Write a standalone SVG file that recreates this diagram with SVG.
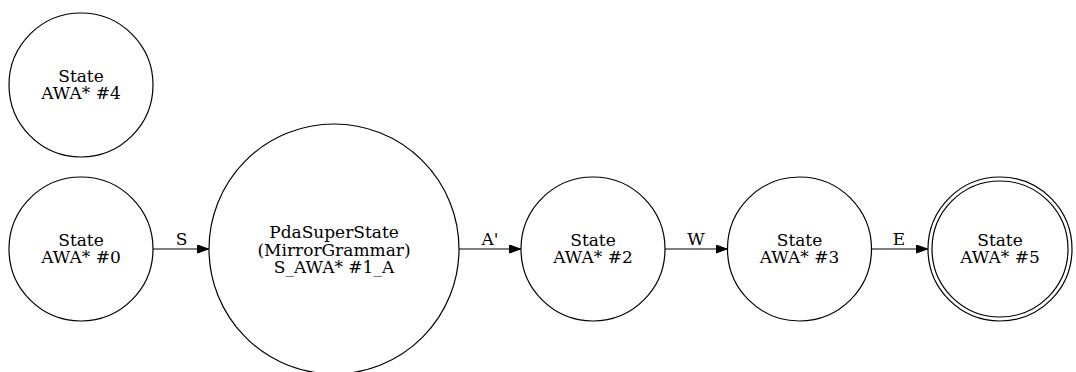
<svg xmlns="http://www.w3.org/2000/svg" width="1076" height="372" viewBox="0 0 1076 372">
  <style>
    .node circle { fill: none; stroke: #000; stroke-width: 1.2; }
    text { font-family: "DejaVu Serif", "Liberation Serif", serif; font-size: 17px; fill: #000; text-anchor: middle; }
    .edge line { stroke: #000; stroke-width: 1.2; }
  </style>
  <defs>
    <marker id="arrow" viewBox="0 0 12 9" refX="12" refY="4.5" markerWidth="12" markerHeight="9" markerUnits="userSpaceOnUse" orient="auto">
      <polygon points="0.5,0.5 11.5,4.5 0.5,8.5" fill="#000" stroke="#000" stroke-width="1"/>
    </marker>
  </defs>
  <rect width="1076" height="372" fill="#fff"/>

  <!-- states -->
  <g id="node4" class="node">
    <circle cx="81" cy="85" r="72"/>
    <text x="81" y="81.5">State</text>
    <text x="81" y="99">AWA* #4</text>
  </g>
  <g id="node0" class="node">
    <circle cx="81" cy="249" r="72"/>
    <text x="81" y="245.5">State</text>
    <text x="81" y="263">AWA* #0</text>
  </g>
  <g id="node1" class="node">
    <circle cx="334" cy="249" r="125"/>
    <text x="334" y="237.5">PdaSuperState</text>
    <text x="334" y="255.5">(MirrorGrammar)</text>
    <text x="334" y="273">S_AWA* #1_A</text>
  </g>
  <g id="node2" class="node">
    <circle cx="593" cy="249" r="72"/>
    <text x="593" y="245.5">State</text>
    <text x="593" y="263">AWA* #2</text>
  </g>
  <g id="node3" class="node">
    <circle cx="799.5" cy="249" r="72"/>
    <text x="799.5" y="245.5">State</text>
    <text x="799.5" y="263">AWA* #3</text>
  </g>
  <g id="node5" class="node">
    <circle cx="1000" cy="249" r="72"/>
    <circle cx="1000" cy="249" r="68"/>
    <text x="1000" y="245.5">State</text>
    <text x="1000" y="263">AWA* #5</text>
  </g>

  <!-- transitions -->
  <g id="edges" class="edge">
    <line x1="153" y1="249" x2="209" y2="249" marker-end="url(#arrow)"/>
    <text x="181.5" y="245">S</text>
    <line x1="459" y1="249" x2="521" y2="249" marker-end="url(#arrow)"/>
    <text x="490" y="245">A'</text>
    <line x1="665" y1="249" x2="727.5" y2="249" marker-end="url(#arrow)"/>
    <text x="696" y="245">W</text>
    <line x1="871.5" y1="249" x2="928" y2="249" marker-end="url(#arrow)"/>
    <text x="899" y="245">E</text>
  </g>
</svg>
